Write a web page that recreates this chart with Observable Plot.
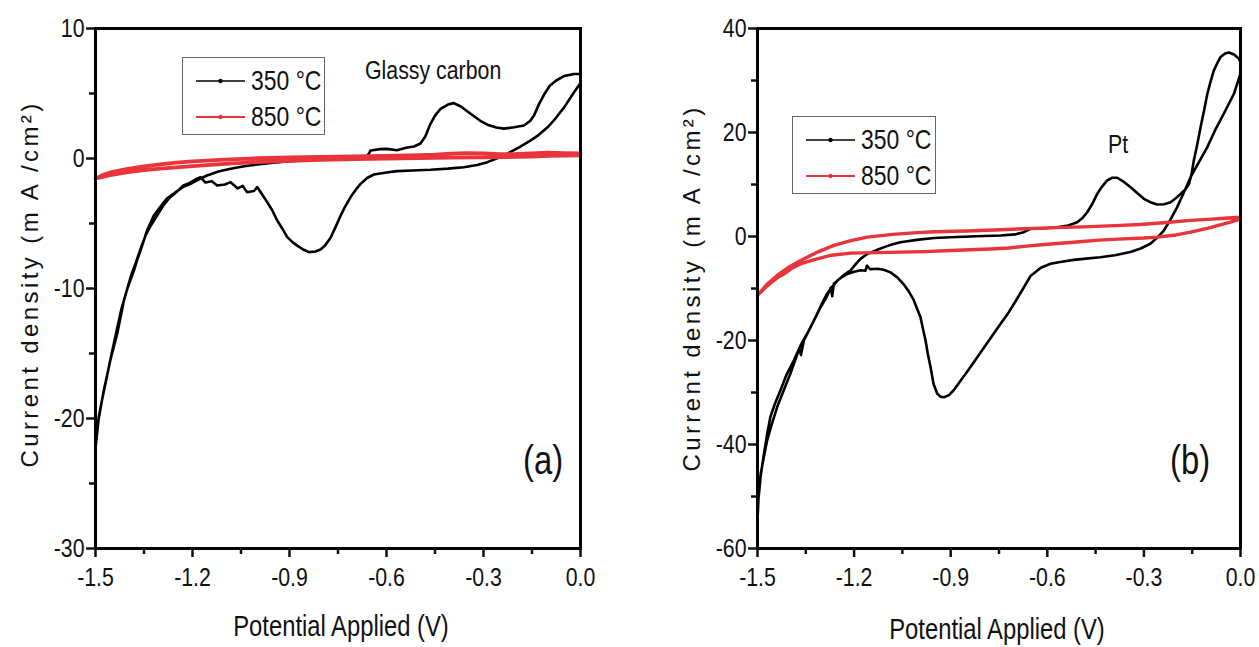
<!DOCTYPE html>
<html><head><meta charset="utf-8">
<script src="https://cdn.jsdelivr.net/npm/d3@7"></script>
<script src="https://cdn.jsdelivr.net/npm/@observablehq/plot@0.6"></script>
<style>
html,body{margin:0;padding:0;background:#fff;}
body{width:1259px;height:647px;overflow:hidden;position:relative;color:#111;
 font-family:"Liberation Sans",Arial,sans-serif;}
.panel{position:absolute;top:0;}
.t{position:absolute;white-space:nowrap;line-height:1;transform-origin:0 0;transform:scaleX(0.82);}
.tc{position:absolute;white-space:nowrap;line-height:1;transform:translateX(-50%) scaleX(0.82);}
.ylab{position:absolute;white-space:nowrap;line-height:1;transform:translate(-50%,-50%) rotate(-90deg);
 font-family:"Liberation Sans",Arial,sans-serif;font-size:24px;letter-spacing:3.4px;}
.leg{position:absolute;border:1.5px solid #666;background:#fff;box-sizing:border-box;}
</style></head><body>
<div id="pa" class="panel" style="left:0px"></div>
<div id="pb" class="panel" style="left:630px"></div>
<script>
// ---------------- data ----------------
const xTicks = [-1.5, -1.2, -0.9, -0.6, -0.3, 0.0];
const xMinor = [-1.35, -1.05, -0.75, -0.45, -0.15];
const yTicksA = [-30, -20, -10, 0, 10];
const yMinorA = [-25, -15, -5, 5];
const yTicksB = [-60, -40, -20, 0, 20, 40];
const yMinorB = [-50, -30, -10, 10, 30];
const seriesNames = ["350 °C", "850 °C"];
const seriesColors = ["#000000", "#e8343a"];

// Panel (a) Glassy carbon, 350 °C : potential (V), current density (mA/cm2)
const a350V = [0.0,-0.02,-0.05,-0.08,-0.10,-0.13,-0.155,-0.19,-0.227,-0.26,-0.288,-0.32,-0.361,-0.41,-0.464,-0.52,-0.567,-0.60,-0.639,-0.66,-0.68,-0.695,-0.711,-0.728,-0.742,-0.758,-0.773,-0.79,-0.804,-0.82,-0.84,-0.858,-0.876,-0.89,-0.907,-0.922,-0.938,-0.953,-0.969,-0.985,-1.0,-1.01,-1.031,-1.045,-1.06,-1.082,-1.10,-1.124,-1.14,-1.16,-1.175,-1.19,-1.21,-1.23,-1.25,-1.27,-1.29,-1.31,-1.33,-1.345,-1.36,-1.375,-1.39,-1.405,-1.42,-1.435,-1.45,-1.465,-1.48,-1.49,-1.497,-1.5,
 -1.497,-1.49,-1.474,-1.454,-1.433,-1.412,-1.40,-1.381,-1.371,-1.361,-1.34,-1.32,-1.30,-1.28,-1.258,-1.23,-1.206,-1.18,-1.155,-1.12,-1.082,-1.04,-1.0,-0.95,-0.9,-0.8,-0.72,-0.665,-0.655,-0.649,-0.62,-0.598,-0.568,-0.536,-0.515,-0.495,-0.48,-0.464,-0.45,-0.433,-0.41,-0.392,-0.37,-0.34,-0.31,-0.288,-0.26,-0.237,-0.205,-0.175,-0.155,-0.144,-0.128,-0.113,-0.095,-0.075,-0.05,-0.02,0.0];
const a350J = [5.8,5.1,3.95,3.0,2.45,1.8,1.38,0.85,0.36,0.0,-0.28,-0.5,-0.67,-0.78,-0.87,-0.92,-0.97,-1.08,-1.23,-1.5,-1.95,-2.4,-2.97,-3.7,-4.4,-5.3,-6.1,-6.7,-7.0,-7.15,-7.2,-7.0,-6.7,-6.45,-6.05,-5.4,-4.77,-4.0,-3.36,-2.75,-2.2,-2.5,-2.59,-2.1,-2.3,-1.82,-2.0,-2.08,-1.75,-1.85,-1.44,-1.6,-1.9,-2.1,-2.6,-3.0,-3.6,-4.4,-5.2,-5.9,-6.9,-8.0,-9.0,-10.3,-11.6,-13.3,-15.0,-16.8,-18.6,-20.0,-21.5,-22.3,
 -21.6,-19.9,-17.8,-15.5,-13.5,-10.9,-9.9,-8.6,-7.8,-7.1,-5.5,-4.4,-3.74,-3.1,-2.7,-2.2,-1.95,-1.6,-1.31,-1.0,-0.79,-0.6,-0.46,-0.33,-0.2,-0.05,0.0,0.05,0.35,0.62,0.72,0.74,0.64,0.85,0.92,1.15,1.7,2.67,3.3,3.82,4.15,4.26,4.0,3.44,2.9,2.6,2.38,2.3,2.4,2.54,2.9,3.3,4.2,4.9,5.6,6.0,6.35,6.5,6.5];

// Panel (a) Glassy carbon, 850 °C
const a850V = [0,-0.05,-0.1,-0.15,-0.2,-0.3,-0.4,-0.5,-0.6,-0.7,-0.8,-0.9,-1.0,-1.1,-1.2,-1.3,-1.35,-1.4,-1.45,-1.5,
 -1.48,-1.45,-1.4,-1.35,-1.3,-1.25,-1.2,-1.1,-1.0,-0.9,-0.8,-0.7,-0.6,-0.5,-0.45,-0.4,-0.35,-0.3,-0.25,-0.2,-0.15,-0.1,-0.05,0];
const a850J = [0.25,0.22,0.2,0.15,0.12,0.08,0.06,0.03,0.0,-0.05,-0.1,-0.18,-0.28,-0.42,-0.58,-0.78,-0.9,-1.05,-1.25,-1.55,
 -1.3,-1.05,-0.8,-0.6,-0.45,-0.32,-0.22,-0.08,0.02,0.08,0.12,0.16,0.2,0.25,0.3,0.38,0.42,0.4,0.33,0.35,0.4,0.45,0.42,0.4];

// Panel (b) Pt, 350 °C
const b350V = [0,-0.02,-0.052,-0.08,-0.103,-0.13,-0.155,-0.175,-0.197,-0.218,-0.238,-0.26,-0.28,-0.31,-0.342,-0.39,-0.435,-0.48,-0.518,-0.555,-0.59,-0.62,-0.652,-0.675,-0.70,-0.72,-0.745,-0.77,-0.797,-0.823,-0.849,-0.87,-0.89,-0.905,-0.921,-0.932,-0.942,-0.953,-0.963,-0.971,-0.978,-0.986,-0.994,-1.005,-1.015,-1.03,-1.046,-1.065,-1.087,-1.108,-1.128,-1.15,-1.16,-1.165,-1.18,-1.2,-1.221,-1.24,-1.263,-1.268,-1.272,-1.285,-1.304,-1.33,-1.356,-1.365,-1.37,-1.398,-1.42,-1.439,-1.455,-1.47,-1.48,-1.49,-1.496,-1.5,-1.5,
 -1.497,-1.49,-1.48,-1.47,-1.46,-1.445,-1.429,-1.41,-1.387,-1.365,-1.346,-1.33,-1.315,-1.3,-1.284,-1.268,-1.252,-1.23,-1.211,-1.195,-1.18,-1.16,-1.145,-1.128,-1.1,-1.08,-1.056,-1.0,-0.95,-0.9,-0.82,-0.745,-0.7,-0.673,-0.652,-0.61,-0.569,-0.535,-0.507,-0.49,-0.476,-0.46,-0.445,-0.43,-0.414,-0.398,-0.383,-0.362,-0.342,-0.32,-0.3,-0.28,-0.259,-0.237,-0.217,-0.2,-0.186,-0.172,-0.16,-0.152,-0.145,-0.134,-0.124,-0.113,-0.103,-0.093,-0.083,-0.07,-0.062,-0.048,-0.036,-0.02,-0.005,0];
const b350J = [31.3,27.5,23.6,20.3,17.2,14.2,11.4,8.6,5.6,3.2,1.15,-0.3,-1.4,-2.3,-3.0,-3.6,-4.0,-4.25,-4.5,-4.85,-5.25,-6.0,-7.6,-10.0,-12.6,-14.6,-16.8,-19.0,-21.4,-23.7,-26.0,-27.8,-29.5,-30.5,-30.9,-30.8,-30.2,-28.4,-25.0,-22.6,-20.0,-17.8,-15.5,-13.8,-12.2,-10.6,-9.2,-7.9,-6.9,-6.4,-6.2,-6.3,-5.6,-6.6,-6.5,-6.8,-7.2,-7.9,-9.1,-11.5,-9.8,-11.6,-13.6,-16.8,-20.0,-22.8,-21.5,-26.4,-29.8,-32.8,-36.0,-39.2,-42.3,-45.6,-49.5,-52.7,-54.6,
 -50.5,-46.0,-41.8,-38.0,-34.7,-32.0,-29.6,-26.6,-23.8,-20.8,-18.7,-16.8,-14.9,-12.9,-11.0,-9.7,-8.5,-7.3,-6.5,-5.3,-4.3,-3.4,-3.0,-2.56,-1.9,-1.5,-1.1,-0.6,-0.3,-0.13,0.05,0.19,0.4,0.83,1.48,1.6,1.79,2.1,2.75,3.6,4.67,6.3,8.2,9.6,10.8,11.3,11.3,10.5,9.5,8.3,7.25,6.6,6.15,6.2,6.6,7.4,8.2,9.0,10.1,12.0,14.6,17.8,21.0,24.3,27.4,29.8,31.9,33.6,34.5,35.2,35.4,35.0,34.2,33.5];

// Panel (b) Pt, 850 °C
const b850V = [0,-0.05,-0.1,-0.155,-0.23,-0.311,-0.39,-0.466,-0.57,-0.673,-0.745,-0.85,-0.95,-1.004,-1.08,-1.159,-1.21,-1.263,-1.31,-1.366,-1.4,-1.439,-1.47,-1.5,
 -1.47,-1.44,-1.418,-1.39,-1.36,-1.315,-1.27,-1.211,-1.13,-1.056,-0.98,-0.9,-0.82,-0.776,-0.72,-0.673,-0.6,-0.518,-0.44,-0.362,-0.3,-0.259,-0.2,-0.155,-0.1,-0.06,-0.031,0];
const b850J = [3.7,3.5,3.3,3.1,2.7,2.3,2.1,1.9,1.7,1.5,1.3,1.05,0.9,0.75,0.4,-0.13,-0.8,-1.7,-2.9,-4.6,-5.8,-7.5,-9.2,-11.3,
 -9.5,-8.0,-7.2,-6.0,-5.1,-4.3,-3.6,-3.2,-3.1,-3.0,-2.9,-2.7,-2.5,-2.4,-2.2,-1.9,-1.5,-1.1,-0.7,-0.45,-0.3,-0.13,0.3,0.83,1.6,2.3,2.75,3.4];

// ---------------- drawing ----------------
const FONT = '"Liberation Sans",Arial,sans-serif';
const NARROW = 0.82;
const toRows = (V, J) => V.map((v, i) => ({v, j: J[i]}));

function panel({width, marginLeft, marginRight, yDomain, yTicks, yMinor, s350, s850, redWidth}) {
  const svg = Plot.plot({
    width, height: 647,
    marginLeft, marginRight, marginTop: 28, marginBottom: 99,
    style: {fontFamily: FONT, fontSize: "26px", color: "#111", background: "transparent", overflow: "visible"},
    x: {domain: [-1.5, 0]},
    y: {domain: yDomain},
    marks: [
      Plot.line(s350, {x: "v", y: "j", stroke: seriesColors[0], strokeWidth: 2.6, strokeLinejoin: "round"}),
      Plot.line(s850, {x: "v", y: "j", stroke: seriesColors[1], strokeWidth: redWidth, strokeLinejoin: "round"}),
      Plot.frame({stroke: "#000", strokeWidth: 3}),
      Plot.axisX(xTicks, {tickSize: 9, strokeWidth: 2.5, tickPadding: 10, fontSize: 26, tickFormat: d => d.toFixed(1), label: null}),
      Plot.axisX(xMinor, {tickSize: 6, strokeWidth: 2.5, tickFormat: () => "", label: null}),
      Plot.axisY(yTicks, {tickSize: 9, strokeWidth: 2.5, tickPadding: 2, fontSize: 26, tickFormat: d => String(d), label: null}),
      Plot.axisY(yMinor, {tickSize: 6, strokeWidth: 2.5, tickFormat: () => "", label: null})
    ]
  });
  // condense tick labels horizontally (narrow face look), keeping each anchor fixed
  d3.select(svg).selectAll('g[aria-label="x-axis tick label"] text, g[aria-label="y-axis tick label"] text').each(function() {
    const t = d3.select(this);
    let x = parseFloat(t.attr("x"));
    if (!isFinite(x)) x = 0;
    const tr = t.attr("transform") || "";
    t.attr("transform", `${tr} translate(${x},0) scale(${NARROW},1) translate(${-x},0)`);
  });
  return svg;
}

document.getElementById("pa").append(panel({
  width: 630, marginLeft: 95, marginRight: 50,
  yDomain: [-30, 10], yTicks: yTicksA, yMinor: yMinorA,
  s350: toRows(a350V, a350J), s850: toRows(a850V, a850J), redWidth: 3.8
}));
document.getElementById("pb").append(panel({
  width: 629, marginLeft: 127, marginRight: 19,
  yDomain: [-60, 40], yTicks: yTicksB, yMinor: yMinorB,
  s350: toRows(b350V, b350J), s850: toRows(b850V, b850J), redWidth: 3.4
}));

// ---------------- text, legends ----------------
function addText(txt, left, top, size, cls) {
  const d = document.createElement("div");
  d.className = cls || "t";
  d.textContent = txt;
  d.style.left = left + "px"; d.style.top = top + "px";
  if (size) d.style.fontSize = size + "px";
  document.body.append(d);
  return d;
}
function addLegend(left, top, w, h) {
  const box = document.createElement("div");
  box.className = "leg";
  Object.assign(box.style, {left: left + "px", top: top + "px", width: w + "px", height: h + "px"});
  const svgNS = "http://www.w3.org/2000/svg";
  seriesNames.forEach((name, i) => {
    const cy = 23 + i * 36;
    const svg = document.createElementNS(svgNS, "svg");
    svg.setAttribute("width", 52); svg.setAttribute("height", 10);
    Object.assign(svg.style, {position: "absolute", left: "12px", top: (cy - 5) + "px"});
    const ln = document.createElementNS(svgNS, "line");
    ln.setAttribute("x1", 1); ln.setAttribute("x2", 50); ln.setAttribute("y1", 5); ln.setAttribute("y2", 5);
    ln.setAttribute("stroke", seriesColors[i]); ln.setAttribute("stroke-width", i ? 2 : 1.6);
    const c = document.createElementNS(svgNS, "circle");
    c.setAttribute("cx", 25.5); c.setAttribute("cy", 5); c.setAttribute("r", 2.2); c.setAttribute("fill", seriesColors[i]);
    svg.append(ln, c);
    const t = document.createElement("div");
    t.className = "t"; t.textContent = name;
    Object.assign(t.style, {left: "68px", top: (cy - 14) + "px", fontSize: "28px"});
    box.append(svg, t);
  });
  document.body.append(box);
}
addLegend(182, 57, 143, 78);
addLegend(792, 116, 144, 78);

addText("Glassy carbon", 365, 57, 26);
addText("Pt", 1108, 131, 26);
addText("(a)", 523, 440, 40);
addText("(b)", 1170, 440, 40);

// x-axis titles
addText("Potential Applied (V)", 341, 612, 29, "tc");
addText("Potential Applied (V)", 997, 615, 29, "tc");

// y-axis titles
function addYLabel(cx, cy) {
  const d = document.createElement("div");
  d.className = "ylab";
  d.innerHTML = "Current density (m A /cm²)";
  d.style.left = cx + "px"; d.style.top = cy + "px";
  document.body.append(d);
}
addYLabel(30, 284);
addYLabel(692, 288);
</script>
</body></html>
